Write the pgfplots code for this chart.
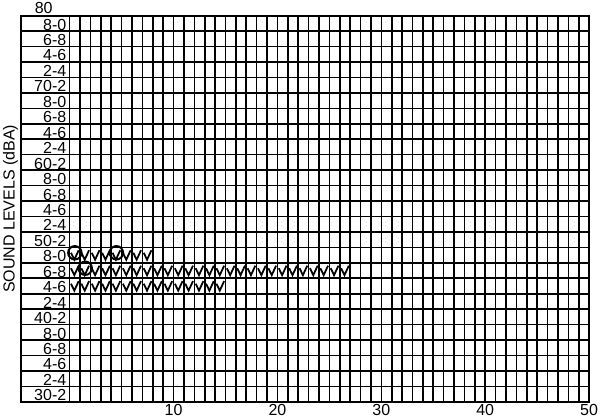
\documentclass[border=0pt]{standalone}
\usepackage{fontspec}
\setmainfont{Liberation Sans}
\usepackage{pgfplots}
\pgfplotsset{compat=1.18}

% check mark drawn in each cell
\pgfdeclareplotmark{check}{%
  \pgfpathmoveto{\pgfqpoint{-0.75\pgfplotmarksize}{0.45\pgfplotmarksize}}%
  \pgfpathlineto{\pgfqpoint{-0.1\pgfplotmarksize}{-0.9\pgfplotmarksize}}%
  \pgfpathlineto{\pgfqpoint{0.75\pgfplotmarksize}{0.95\pgfplotmarksize}}%
  \pgfusepathqstroke}

\begin{document}
\begin{tikzpicture}
\begin{axis}[
    scale only axis,
    width=287.5pt, height=195.5pt,
    xmin=-4.66, xmax=50,
    ymin=30, ymax=80,
    axis line style={line width=1pt},
    xtick={0,...,50}, xticklabels={},
    ytick={30,32,...,80}, yticklabels={},
    major tick length=0pt,
    grid=major,
    grid style={black, line width=0.8pt},
    extra x ticks={10,20,30,40,50},
    extra x tick style={grid=none},
    extra x tick labels={10,20,30,40,50},
    xticklabel style={inner sep=1pt},
    ylabel={SOUND LEVELS (dBA)},
    ylabel style={at={(axis description cs:0,0.5)}, anchor=south, rotate=0, inner sep=1.5pt},
    font=\fontsize{8.1}{9.5}\selectfont,
    /pgf/number format/assume math mode=true,
    clip=false,
  ]
  % the label column holds no vertical grid lines
  \fill[white] (axis cs:-4.6,30.15) rectangle (axis cs:-0.06,79.85);
  \pgfplotsinvokeforeach{32,34,...,78}{\draw[black, line width=0.8pt] (axis cs:-4.66,#1) -- (axis cs:0,#1);}
  \draw[black, line width=0.8pt] (axis cs:0,30) -- (axis cs:0,80);

  \node[anchor=south, inner sep=1pt] at (axis cs:-2.5,80) {80};
  \begin{scope}[every node/.style={anchor=east, inner sep=1pt, yshift=-0.6pt}]
  \node at (axis cs:-0.1,79) {8-0};
  \node at (axis cs:-0.1,77) {6-8};
  \node at (axis cs:-0.1,75) {4-6};
  \node at (axis cs:-0.1,73) {2-4};
  \node at (axis cs:-0.1,71) {70-2};
  \node at (axis cs:-0.1,69) {8-0};
  \node at (axis cs:-0.1,67) {6-8};
  \node at (axis cs:-0.1,65) {4-6};
  \node at (axis cs:-0.1,63) {2-4};
  \node at (axis cs:-0.1,61) {60-2};
  \node at (axis cs:-0.1,59) {8-0};
  \node at (axis cs:-0.1,57) {6-8};
  \node at (axis cs:-0.1,55) {4-6};
  \node at (axis cs:-0.1,53) {2-4};
  \node at (axis cs:-0.1,51) {50-2};
  \node at (axis cs:-0.1,49) {8-0};
  \node at (axis cs:-0.1,47) {6-8};
  \node at (axis cs:-0.1,45) {4-6};
  \node at (axis cs:-0.1,43) {2-4};
  \node at (axis cs:-0.1,41) {40-2};
  \node at (axis cs:-0.1,39) {8-0};
  \node at (axis cs:-0.1,37) {6-8};
  \node at (axis cs:-0.1,35) {4-6};
  \node at (axis cs:-0.1,33) {2-4};
  \node at (axis cs:-0.1,31) {30-2};
  \end{scope}

  % 48-50 dBA
  \addplot[only marks, mark=check, mark size=2.6pt, mark options={line width=0.9pt}] coordinates {
    (0.5,49) (1.5,49) (2.5,49) (3.5,49) (4.5,49) (5.5,49) (6.5,49) (7.5,49)
  };
  % 46-48 dBA
  \addplot[only marks, mark=check, mark size=2.6pt, mark options={line width=0.9pt}] coordinates {
    (0.5,47) (1.5,47) (2.5,47) (3.5,47) (4.5,47) (5.5,47) (6.5,47) (7.5,47) (8.5,47)
    (9.5,47) (10.5,47) (11.5,47) (12.5,47) (13.5,47) (14.5,47) (15.5,47) (16.5,47)
    (17.5,47) (18.5,47) (19.5,47) (20.5,47) (21.5,47) (22.5,47) (23.5,47) (24.5,47)
    (25.5,47) (26.5,47)
  };
  % 44-46 dBA
  \addplot[only marks, mark=check, mark size=2.6pt, mark options={line width=0.9pt}] coordinates {
    (0.5,45) (1.5,45) (2.5,45) (3.5,45) (4.5,45) (5.5,45) (6.5,45) (7.5,45) (8.5,45)
    (9.5,45) (10.5,45) (11.5,45) (12.5,45) (13.5,45) (14.5,45)
  };
  % circled readings
  \addplot[only marks, mark=o, mark size=3.4pt, mark options={line width=1pt}] coordinates {
    (0.5,49.3) (4.5,49.3) (1.5,47.3)
  };
\end{axis}
\end{tikzpicture}
\end{document}
